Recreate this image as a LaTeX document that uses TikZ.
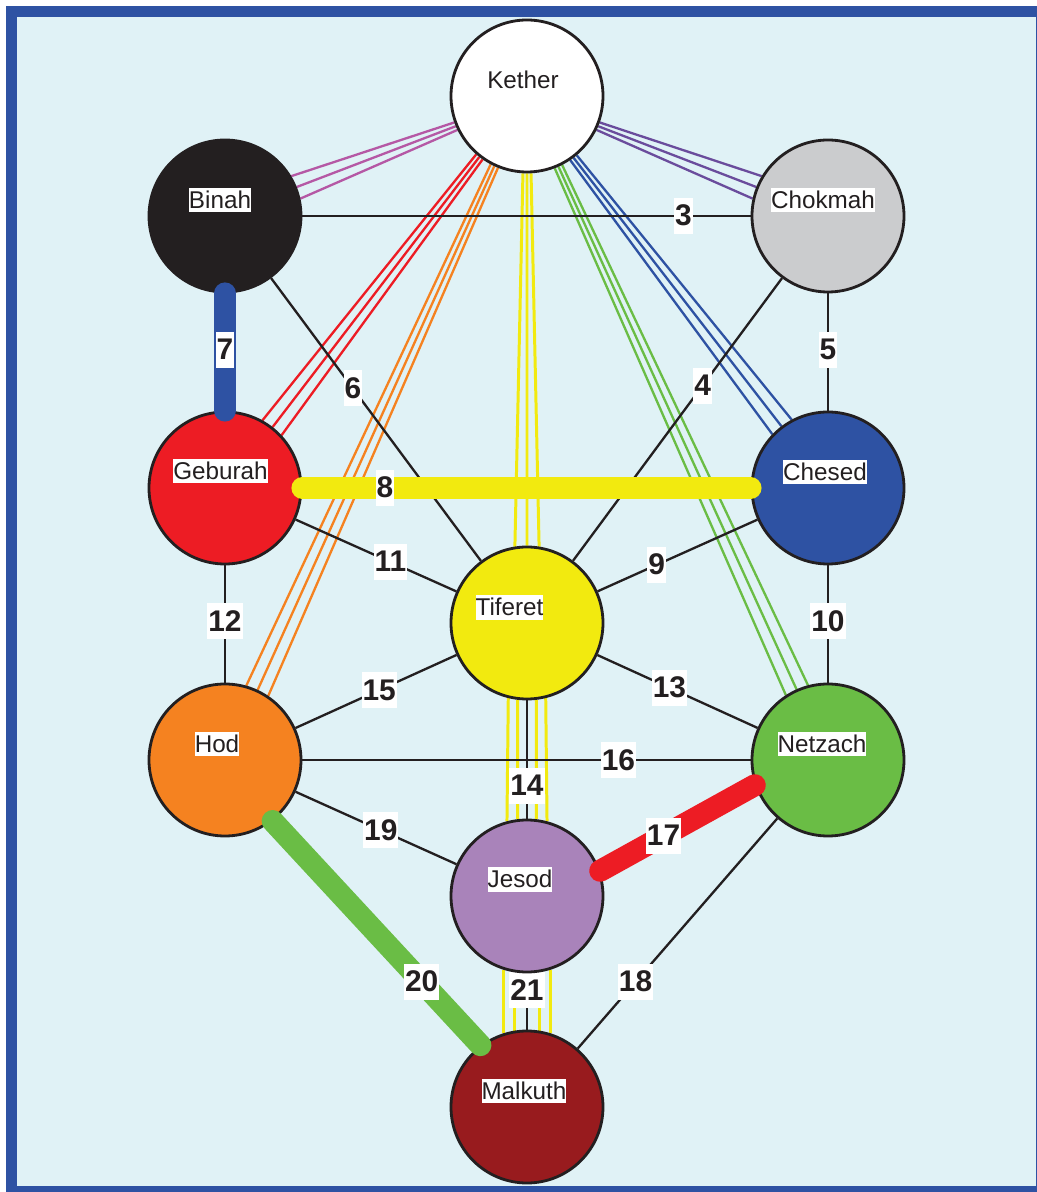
\documentclass[tikz,border=0pt]{standalone}
\usepackage{fontspec}
\setmainfont{Liberation Sans}
\usetikzlibrary{backgrounds}

\definecolor{ink}{HTML}{231F20}
\definecolor{paper}{HTML}{E0F2F6}
\definecolor{frame}{HTML}{2E52A3}
\definecolor{sgray}{HTML}{CBCCCE}
\definecolor{sred}{HTML}{ED1C24}
\definecolor{sblue}{HTML}{2E52A3}
\definecolor{syellow}{HTML}{F2EA0F}
\definecolor{sorange}{HTML}{F58220}
\definecolor{sgreen}{HTML}{6ABD45}
\definecolor{slilac}{HTML}{A983BA}
\definecolor{smaroon}{HTML}{981B1E}
\definecolor{smagenta}{HTML}{B558A5}
\definecolor{sviolet}{HTML}{6A4C9C}

\newcommand{\namefont}{\fontsize{6.9}{8}\selectfont}
\newcommand{\numfont}{\fontsize{8.5}{10}\selectfont\bfseries}

\tikzset{
  sephira/.style={circle, draw=ink, line width=0.8pt, minimum size=1.52cm, inner sep=0pt},
  namebox/.style={fill=white, inner sep=0pt, text height=0.205cm, text depth=0.04cm, text=ink, font=\namefont},
  numbox/.style={fill=white, inner xsep=0.3pt, inner ysep=0pt, text height=0.28cm, text depth=0.08cm, text=ink, font=\numfont},
  link/.style={draw=ink, line width=0.66pt},
  strand/.style={line width=0.66pt},
  thread/.style={line width=0.85pt, draw=syellow},
  bar/.style={line width=0.22cm, line cap=round}
}

\begin{document}
\begin{tikzpicture}
    \useasboundingbox (-5.27, -5.69) rectangle (5.10, 6.23);
    % the ten sephirot
    \node[sephira, fill=white] (kether) at (0, 5.27) {};
    \node[sephira, fill=ink] (binah) at (-3.02, 4.07) {};
    \node[sephira, fill=sgray] (chokmah) at (3.01, 4.07) {};
    \node[sephira, fill=sred] (geburah) at (-3.02, 1.35) {};
    \node[sephira, fill=sblue] (chesed) at (3.01, 1.35) {};
    \node[sephira, fill=syellow] (tiferet) at (0, 0) {};
    \node[sephira, fill=sorange] (hod) at (-3.02, -1.37) {};
    \node[sephira, fill=sgreen] (netzach) at (3.01, -1.37) {};
    \node[sephira, fill=slilac] (jesod) at (0, -2.73) {};
    \node[sephira, fill=smaroon] (malkuth) at (0, -4.84) {};

    \begin{scope}[on background layer]
        \draw[fill=paper, draw=frame, line width=0.11cm]
            (-5.155, 6.115) rectangle (5.145, -5.685);
        % triple strands out of kether
        \draw[strand, smagenta]
            (kether.200) -- (binah.31) (kether.203) -- (binah.22) (kether.206) -- (binah.13);
        \draw[strand, sviolet]
            (kether.340) -- (chokmah.149) (kether.337) -- (chokmah.158) (kether.334) -- (chokmah.167);
        \draw[strand, sred]
            (kether.229.4) -- (geburah.61.4) (kether.232.4) -- (geburah.52.4) (kether.235.4) -- (geburah.43.4);
        \draw[strand, sblue]
            (kether.310.5) -- (chesed.118.5) (kether.307.5) -- (chesed.127.5) (kether.304.5) -- (chesed.136.5);
        \draw[strand, sorange]
            (kether.242.5) -- (hod.74.5) (kether.245.5) -- (hod.65.5) (kether.248.5) -- (hod.56.5);
        \draw[strand, sgreen]
            (kether.297.4) -- (netzach.105.4) (kether.294.4) -- (netzach.114.4) (kether.291.4) -- (netzach.123.4);
        \draw[thread]
            (kether.267) -- (tiferet.99) (kether.270) -- (tiferet.90) (kether.273) -- (tiferet.81);
        \draw[thread]
            (tiferet.256) -- (jesod.105) (tiferet.263) -- (jesod.97)
            (tiferet.277) -- (jesod.83) (tiferet.284) -- (jesod.75);
        \draw[thread]
            (jesod.252) -- (malkuth.108) (jesod.261) -- (malkuth.99)
            (jesod.279) -- (malkuth.81) (jesod.288) -- (malkuth.72);
        % numbered paths
        \draw[link] (binah) -- node[numbox, pos=0.85] (n3) {3} (chokmah);
        \draw[link] (chokmah) -- node[numbox, pos=0.38] (n4) {4} (tiferet);
        \draw[link] (chokmah) -- node[numbox, pos=0.48] (n5) {5} (chesed);
        \draw[link] (binah) -- node[numbox, pos=0.39] (n6) {6} (tiferet);
        \draw[link] (chesed) -- node[numbox, pos=0.63] (n9) {9} (tiferet);
        \draw[link] (chesed) -- node[numbox, pos=0.475] (n10) {10} (netzach);
        \draw[link] (geburah) -- node[numbox, pos=0.59] (n11) {11} (tiferet);
        \draw[link] (geburah) -- node[numbox, pos=0.475] (n12) {12} (hod);
        \draw[link] (tiferet) -- node[numbox, pos=0.45] (n13) {13} (netzach);
        \draw[link] (tiferet) -- node[numbox, pos=0.72] (n14) {14} (jesod);
        \draw[link] (tiferet) -- node[numbox, pos=0.48] (n15) {15} (hod);
        \draw[link] (hod) -- node[numbox, pos=0.705] (n16) {16} (netzach);
        \draw[link] (netzach) -- node[numbox, pos=0.71] (n18) {18} (malkuth);
        \draw[link] (hod) -- node[numbox, pos=0.53] (n19) {19} (jesod);
        \draw[link] (jesod) -- node[numbox, pos=0.3] (n21) {21} (malkuth);
    \end{scope}

    % thick paths
    \draw[bar, sblue] (binah) -- node[numbox, pos=0.48] (n7) {7} (geburah);
    \draw[bar, syellow] (geburah) -- node[numbox, pos=0.184] (n8) {8} (chesed);
    \draw[bar, sred] (jesod.19) -- node[numbox, pos=0.41] (n17) {17} (netzach.199);
    \draw[bar, sgreen] (hod.308) -- node[numbox, pos=0.717] (n20) {20} (malkuth.127);

    % names
    \node[namebox] (ketherlabel) at (-0.04, 5.43) {Kether};
    \node[namebox] (binahlabel) at (-3.07, 4.23) {Binah};
    \node[namebox] (chokmahlabel) at (2.96, 4.23) {Chokmah};
    \node[namebox] (geburahlabel) at (-3.065, 1.52) {Geburah};
    \node[namebox] (chesedlabel) at (2.98, 1.51) {Chesed};
    \node[namebox] (tiferetlabel) at (-0.175, 0.155) {Tiferet};
    \node[namebox] (hodlabel) at (-3.10, -1.21) {Hod};
    \node[namebox] (netzachlabel) at (2.95, -1.21) {Netzach};
    \node[namebox] (jesodlabel) at (-0.07, -2.565) {Jesod};
    \node[namebox] (malkuthlabel) at (-0.03, -4.68) {Malkuth};
\end{tikzpicture}
\end{document}
